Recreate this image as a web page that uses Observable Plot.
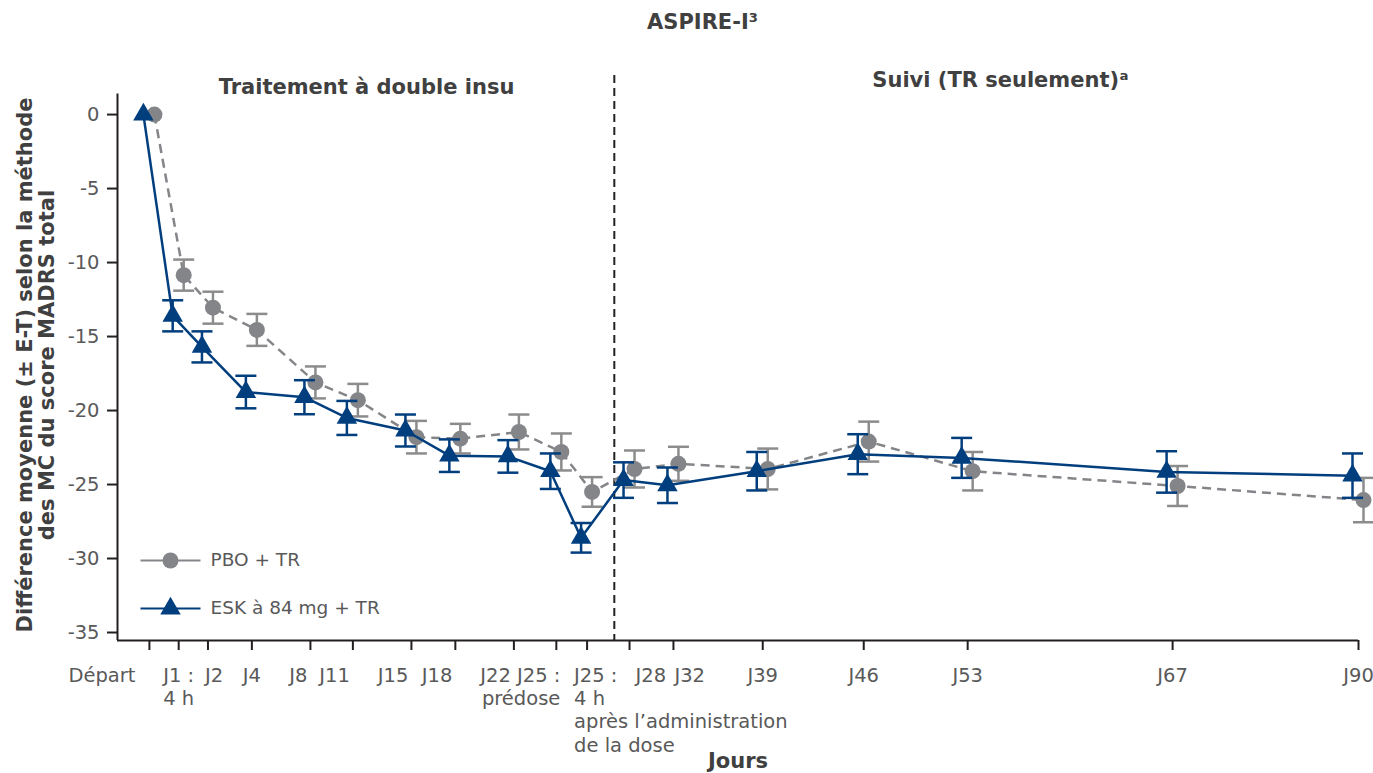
<!DOCTYPE html>
<html>
<head>
<meta charset="utf-8">
<script src="https://cdn.jsdelivr.net/npm/d3@7"></script>
<script src="https://cdn.jsdelivr.net/npm/@observablehq/plot@0.6"></script>
<style>
  html, body { margin: 0; padding: 0; background: #fff; }
  #chart svg { display: block; }
</style>
</head>
<body>
<div id="chart"></div>
<script>
// ---- Data ----
const visitLabels = ["Départ", "J1 :\n4 h", "J2", "J4", "J8", "J11", "J15", "J18", "J22",
  "J25 :\nprédose", "J25 :\n4 h\naprès l’administration\nde la dose",
  "J28", "J32", "J39", "J46", "J53", "J67", "J90"];
// schedule position of each visit on the horizontal axis (axis units)
const visitPos = [0, 1, 2, 3.5, 5.5, 6.95, 8.95, 10.45, 12.45, 13.9, 14.95, 16.4, 17.9, 20.95, 24.4, 27.95, 34.95, 41.3];
const phaseSplit = 15.88; // end of double-blind phase

const pboMean = [0, -10.85, -13.05, -14.55, -18.1, -19.3, -21.8, -21.9, -21.45, -22.8, -25.5, -23.95, -23.6, -23.95, -22.1, -24.1, -25.1, -26.05];
const pboSE   = [0, 1.05, 1.08, 1.08, 1.08, 1.1, 1.1, 1.0, 1.18, 1.25, 1.0, 1.25, 1.15, 1.38, 1.35, 1.3, 1.35, 1.5];
const eskMean = [0, -13.6, -15.7, -18.75, -19.1, -20.5, -21.35, -23.05, -23.1, -24.1, -28.6, -24.7, -25.05, -24.1, -22.95, -23.2, -24.15, -24.4];
const eskSE   = [0, 1.05, 1.05, 1.1, 1.15, 1.15, 1.08, 1.1, 1.1, 1.2, 1.0, 1.2, 1.2, 1.3, 1.35, 1.35, 1.4, 1.5];

const yTicks = [0, -5, -10, -15, -20, -25, -30, -35];
const seriesNames = ["PBO + TR", "ESK à 84 mg + TR"];

// ---- Styling ----
const GRAY = "#848589";
const GRAY_BAR = "#8c8c8c";
const BLUE = "#003e7e";
const AXIS = "#231f20";
const TXT = "#595959";
const HEAD = "#404040";
const FONT = "DejaVu Sans";

const pbo = visitPos.map((x, i) => ({x, mean: pboMean[i], se: pboSE[i]}));
const esk = visitPos.map((x, i) => ({x, mean: eskMean[i], se: eskSE[i]}));
const labels = visitPos.map((x, i) => ({x, label: visitLabels[i], i}));

const yMin = -35.54, yMax = 2.64, yAxisTop = 1.385;
const xMin = -1.09, xMax = 41.3;

const cap = { draw(ctx) { ctx.moveTo(-10.5, 0); ctx.lineTo(10.5, 0); } };
const legendLine = { draw(ctx) { ctx.moveTo(-30, 0); ctx.lineTo(30, 0); } };

const PD = 5, ED = -6; // dodge offsets (px)

function errorBars(data, color, dx) {
  const d = data.filter(r => r.se > 0);
  return [
    Plot.ruleX(d, {x: "x", y1: r => r.mean - r.se, y2: r => r.mean + r.se, stroke: color, strokeWidth: 2.5, dx}),
    Plot.dot(d, {x: "x", y: r => r.mean + r.se, symbol: cap, fill: "none", stroke: color, strokeWidth: 2.5, dx}),
    Plot.dot(d, {x: "x", y: r => r.mean - r.se, symbol: cap, fill: "none", stroke: color, strokeWidth: 2.5, dx})
  ];
}

// tick-label groups (alignment styling only)
const tickText = (idx, opts) => Plot.text(labels.filter(d => idx.includes(d.i)), {
  x: "x", text: "label", frameAnchor: "bottom", dy: 25, lineAnchor: "top", lineHeight: 1.19,
  fontSize: 19.5, fill: TXT, ...opts});

const chart = Plot.plot({
  width: 1373,
  height: 773,
  marginLeft: 117,
  marginRight: 15,
  marginTop: 75,
  marginBottom: 133,
  style: {fontFamily: FONT, background: "#fff"},
  x: {domain: [xMin, xMax], axis: null},
  y: {domain: [yMin, yMax], axis: null},
  marks: [
    // axes
    Plot.axisY({ticks: yTicks, tickSize: 10, tickPadding: 8, tickFormat: d => String(d),
      fontSize: 19.5, fill: TXT, stroke: AXIS, strokeWidth: 2, label: null}),
    Plot.axisX({ticks: visitPos, tickSize: 10, tickFormat: () => "", stroke: AXIS, strokeWidth: 2, label: null}),
    Plot.ruleY([yMin], {stroke: AXIS, strokeWidth: 2}),
    Plot.ruleX([xMin], {y1: yMin, y2: yAxisTop, stroke: AXIS, strokeWidth: 2}),
    // phase separator
    Plot.ruleX([phaseSplit], {stroke: "#222", strokeWidth: 2, strokeDasharray: "8,5"}),
    // x tick labels
    tickText([0], {textAnchor: "end", dx: -14}),
    tickText([1, 3, 13, 14, 15, 16, 17], {textAnchor: "middle"}),
    tickText([2], {textAnchor: "start", dx: -3}),
    tickText([4, 5, 6, 7, 8], {textAnchor: "end", dx: -3}),
    tickText([9], {textAnchor: "end", dx: 4}),
    tickText([10], {textAnchor: "start", dx: -13}),
    tickText([11], {textAnchor: "start", dx: 6}),
    tickText([12], {textAnchor: "start", dx: 1}),
    // PBO series
    Plot.line(pbo, {x: "x", y: "mean", stroke: GRAY, strokeWidth: 2.5, strokeDasharray: "9,6", strokeLinecap: "butt", dx: PD}),
    ...errorBars(pbo, GRAY_BAR, PD),
    Plot.dot(pbo, {x: "x", y: "mean", r: 8, fill: GRAY, stroke: "none", dx: PD}),
    // ESK series
    Plot.line(esk, {x: "x", y: "mean", stroke: BLUE, strokeWidth: 2.5, dx: ED}),
    ...errorBars(esk, BLUE, ED),
    Plot.dot(esk, {x: "x", y: "mean", symbol: "triangle", r: 7.6, fill: BLUE, stroke: "none", dx: ED}),
    // legend
    Plot.dot([0], {frameAnchor: "bottom-left", dx: 53, dy: -80, symbol: legendLine, fill: "none", stroke: GRAY, strokeWidth: 1.8}),
    Plot.dot([0], {frameAnchor: "bottom-left", dx: 53, dy: -80, r: 8, fill: GRAY, stroke: "none"}),
    Plot.dot([0], {frameAnchor: "bottom-left", dx: 53, dy: -32, symbol: legendLine, fill: "none", stroke: BLUE, strokeWidth: 1.8}),
    Plot.dot([0], {frameAnchor: "bottom-left", dx: 53, dy: -32, symbol: "triangle", r: 7.6, fill: BLUE, stroke: "none"}),
    Plot.text([seriesNames[0]], {frameAnchor: "bottom-left", dx: 93, dy: -80, text: d => d, textAnchor: "start", lineAnchor: "middle", fontSize: 18.5, fill: TXT}),
    Plot.text([seriesNames[1]], {frameAnchor: "bottom-left", dx: 93, dy: -32, text: d => d, textAnchor: "start", lineAnchor: "middle", fontSize: 18.5, fill: TXT}),
    // titles
    Plot.text(["ASPIRE-I³"], {frameAnchor: "top", dx: -35.5, dy: -53, text: d => d, lineAnchor: "middle", fontWeight: "bold", fontSize: 21, fill: HEAD}),
    Plot.text(["Traitement à double insu"], {frameAnchor: "top-left", dx: 249, dy: 12, text: d => d, textAnchor: "middle", lineAnchor: "middle", fontWeight: "bold", fontSize: 21, fill: HEAD}),
    Plot.text(["Suivi (TR seulement)ᵃ"], {frameAnchor: "top-left", dx: 883, dy: 5, text: d => d, textAnchor: "middle", lineAnchor: "middle", fontWeight: "bold", fontSize: 21, fill: HEAD}),
    Plot.text(["Jours"], {frameAnchor: "bottom", dy: 121, text: d => d, lineAnchor: "middle", fontWeight: "bold", fontSize: 21, fill: HEAD}),
    Plot.text(["Différence moyenne (± E-T) selon la méthode\ndes MC du score MADRS total"], {frameAnchor: "left", dx: -82, dy: 7,
      rotate: -90, text: d => d, textAnchor: "middle", lineAnchor: "middle", lineHeight: 1.06, fontWeight: "bold", fontSize: 21, fill: HEAD})
  ]
});
document.getElementById("chart").appendChild(chart);
</script>
</body>
</html>
